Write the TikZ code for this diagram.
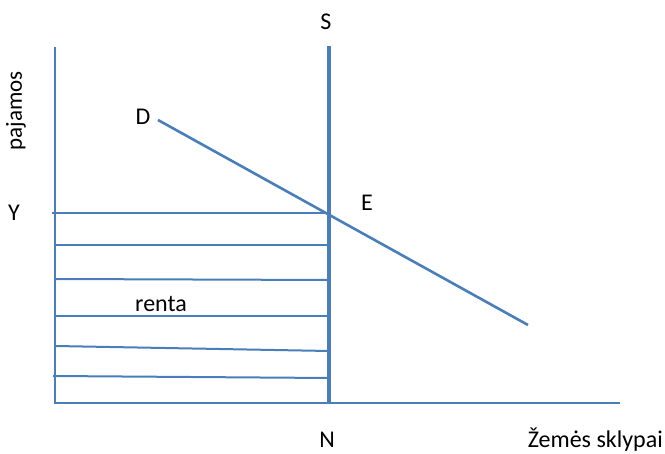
\documentclass[tikz,border=0pt]{standalone}
\usepackage{fontspec}
\setmainfont{Carlito}
\definecolor{lineblue}{RGB}{74,126,187}
\begin{document}
\begin{tikzpicture}[x=1pt,y=-1pt,
  lbl/.style={inner sep=0pt,font=\fontsize{24}{28}\selectfont},
  axis/.style={lineblue,line width=2.2pt},
  thickh/.style={lineblue,line width=2.8pt},
  thinh/.style={lineblue,line width=2pt},
  supply/.style={lineblue,line width=4.4pt},
  demand/.style={lineblue,line width=2.6pt}]
\useasboundingbox (0,0) rectangle (665,454);
% axes
\coordinate (top) at (55,47);
\coordinate (origin) at (55,403);
\coordinate (xend) at (620,403);
\draw[axis] (top) -- (origin) -- (xend);
% supply line
\coordinate (stop) at (329,46);
\coordinate (sbot) at (329,403);
\draw[supply] (stop) -- (sbot);
% demand line
\coordinate (dstart) at (158,120);
\coordinate (dend) at (528,325);
\draw[demand] (dstart) -- (dend);
% horizontal lines
\coordinate (h1a) at (52,213);  \coordinate (h1b) at (329,213);
\coordinate (h2a) at (55,245);  \coordinate (h2b) at (329,245);
\coordinate (h3a) at (55,279);  \coordinate (h3b) at (329,280);
\coordinate (h4a) at (55,316);  \coordinate (h4b) at (329,316);
\coordinate (h5a) at (55,346);  \coordinate (h5b) at (329,351);
\coordinate (h6a) at (53,376);  \coordinate (h6b) at (329,378);
\draw[thickh] (h1a) -- (h1b);
\draw[thickh] (h2a) -- (h2b);
\draw[thinh] (h3a) -- (h3b);
\draw[thinh] (h4a) -- (h4b);
\draw[thinh] (h5a) -- (h5b);
\draw[thinh] (h6a) -- (h6b);
% labels
\node[lbl] (S) at (326,22) {S};
\node[lbl] (D) at (143,117) {D};
\node[lbl] (E) at (367,203) {E};
\node[lbl] (Y) at (14,213) {Y};
\node[lbl] (N) at (327,440) {N};
\node[lbl,anchor=east] (X) at (663,440) {Žemės sklypai};
\node[lbl,anchor=base] (R) at (161,312) {renta};
\node[lbl,rotate=90,font=\fontsize{23}{27}\selectfont] (P) at (16,111) {pajamos};
\end{tikzpicture}
\end{document}
